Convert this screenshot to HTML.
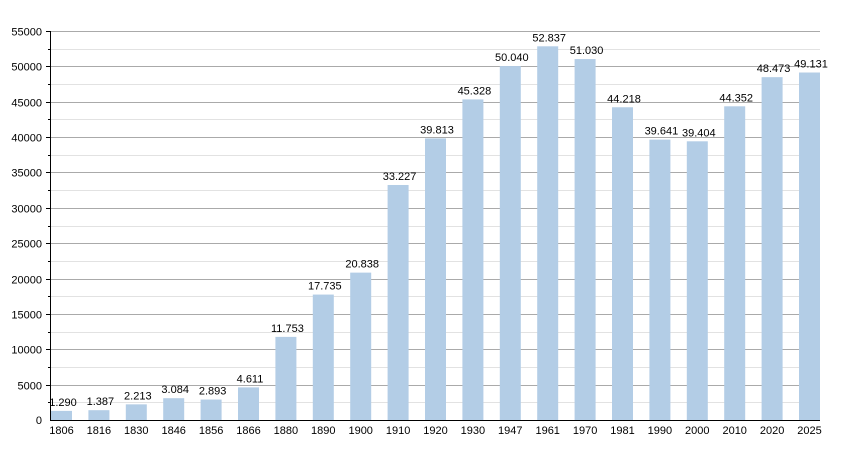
<!DOCTYPE html>
<html><head><meta charset="utf-8"><style>body{margin:0;background:#fff}svg{display:block}</style></head>
<body>
<svg id="c" width="850" height="450" xmlns="http://www.w3.org/2000/svg" font-family="Liberation Sans, sans-serif" font-size="11" fill="#000"></svg>
<script>
(function(){
const s=document.getElementById('c');const NS='http://www.w3.org/2000/svg';
function el(t,a,txt){const e=document.createElementNS(NS,t);for(const k in a)e.setAttribute(k,a[k]);if(txt!==undefined)e.textContent=txt;s.appendChild(e);return e;}
const y0=420,yTop=31,X0=50,X1=820;const sc=(y0-yTop)/55000;
for(let v=2500;v<=55000;v+=2500){const y=Math.round(y0-v*sc)+0.5;const maj=v%5000==0;
el('line',{x1:X0,x2:X1,y1:y,y2:y,stroke:maj?'#aaa':'#e2e2e2','stroke-width':1});
el('line',{x1:X0-(maj?4:2),x2:X0,y1:y,y2:y,stroke:'#000'});
if(maj)el('text',{x:X0-8,y:y+4,'text-anchor':'end'},v);}
el('text',{x:X0-8,y:y0+4,'text-anchor':'end'},0);
const yrs=[1806,1816,1830,1846,1856,1866,1880,1890,1900,1910,1920,1930,1947,1961,1970,1981,1990,2000,2010,2020,2025];
const vals=[1290,1387,2213,3084,2893,4611,11753,17735,20838,33227,39813,45328,50040,52837,51030,44218,39641,39404,44352,48473,49131];
const step=(X1-21-51)/20;
yrs.forEach((yr,i)=>{const x=51+step*i;const h=vals[i]*sc;
el('rect',{x:x,y:y0-h,width:21,height:h,fill:'#b3cde6'});
const lab=(vals[i]/1000).toFixed(3);
el('text',{x:x+12,y:y0-h-5,'text-anchor':'middle'},lab);
el('text',{x:x+10.5,y:y0+14,'text-anchor':'middle'},yr);});
el('line',{x1:X0+0.5,x2:X0+0.5,y1:yTop,y2:y0,stroke:'#000'});
el('line',{x1:X0,x2:X1,y1:y0+0.5,y2:y0+0.5,stroke:'#000'});
})();
</script>
</body></html>
